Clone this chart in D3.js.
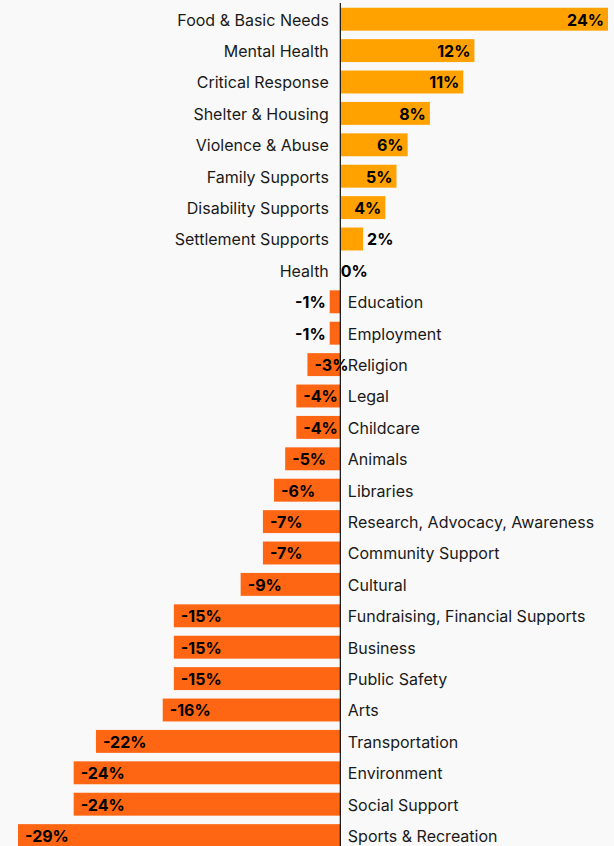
<!DOCTYPE html>
<html>
<head>
<meta charset="utf-8">
<script src="https://cdn.jsdelivr.net/npm/d3@7"></script>
<style>
  html, body { margin: 0; padding: 0; background: #f9f9f9; }
  svg { display: block; font-family: Inter, "Open Sans", sans-serif; }
</style>
</head>
<body>
<svg id="chart" width="614" height="846"></svg>
<script>
const categories = [
  "Food & Basic Needs", "Mental Health", "Critical Response", "Shelter & Housing",
  "Violence & Abuse", "Family Supports", "Disability Supports", "Settlement Supports",
  "Health", "Education", "Employment", "Religion", "Legal", "Childcare", "Animals",
  "Libraries", "Research, Advocacy, Awareness", "Community Support", "Cultural",
  "Fundraising, Financial Supports", "Business", "Public Safety", "Arts",
  "Transportation", "Environment", "Social Support", "Sports & Recreation"
];
const changes = [
  24, 12, 11, 8, 6, 5, 4, 2,
  0, -1, -1, -3, -4, -4, -5,
  -6, -7, -7, -9,
  -15, -15, -15, -16,
  -22, -24, -24, -29
];

const data = categories.map((c, i) => ({ name: c, value: changes[i] }));

const svg = d3.select("#chart");

const x = d3.scaleLinear().domain([-29, 24]).range([18, 608]);
const y = d3.scaleBand().domain(categories).range([3.5, 3.5 + 27 * 31.4]).paddingInner(0.27).paddingOuter(0.135);

const posColor = "#ffa200";
const negColor = "#ff6614";

const g = svg.append("g");

// bars
g.selectAll(".bar")
  .data(data)
  .enter().append("rect")
  .attr("class", "bar")
  .attr("x", d => x(Math.min(0, d.value)))
  .attr("y", d => y(d.name))
  .attr("width", d => Math.abs(x(d.value) - x(0)))
  .attr("height", y.bandwidth())
  .attr("fill", d => d.value >= 0 ? posColor : negColor);

// zero line
svg.append("line")
  .attr("x1", x(0) - 0.5).attr("x2", x(0) - 0.5)
  .attr("y1", 3).attr("y2", 846)
  .attr("stroke", "#111").attr("stroke-width", 1.2);

// category labels
g.selectAll(".cat")
  .data(data)
  .enter().append("text")
  .attr("class", "cat")
  .attr("x", d => d.value >= 0 ? x(0) - 12 : x(0) + 7)
  .attr("y", d => y(d.name) + y.bandwidth() / 2)
  .attr("dy", "0.4em")
  .attr("text-anchor", d => d.value >= 0 ? "end" : "start")
  .attr("font-size", "16px")
  .attr("fill", "#1a1a1a")
  .text(d => d.name);

// value labels
function labelX(d) {
  const w = Math.abs(x(d.value) - x(0));
  if (d.value > 0) return w > 30 ? x(d.value) - 4 : x(d.value) + 4;
  if (d.value < 0) return w > 20 ? x(d.value) + 7 : x(d.value) - 4;
  return x(0);
}
function labelAnchor(d) {
  const w = Math.abs(x(d.value) - x(0));
  if (d.value > 0) return w > 30 ? "end" : "start";
  if (d.value < 0) return w > 20 ? "start" : "end";
  return "start";
}
g.selectAll(".val")
  .data(data)
  .enter().append("text")
  .attr("class", "val")
  .attr("x", labelX)
  .attr("y", d => y(d.name) + y.bandwidth() / 2)
  .attr("dy", "0.4em")
  .attr("text-anchor", labelAnchor)
  .attr("font-size", "16px")
  .attr("font-weight", "bold")
  .attr("fill", "#000")
  .text(d => d.value + "%");
</script>
</body>
</html>
